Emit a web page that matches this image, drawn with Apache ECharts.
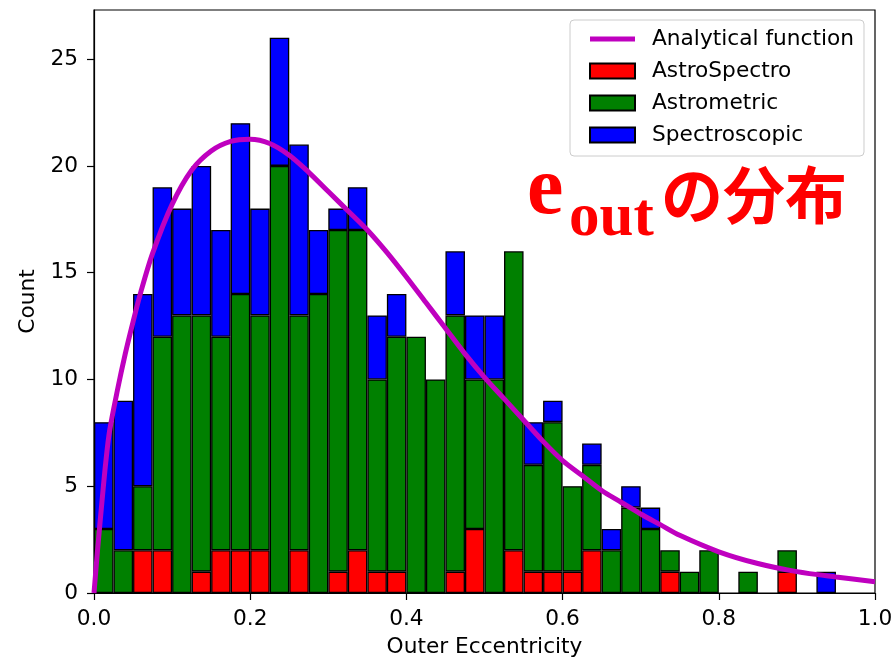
<!DOCTYPE html>
<html><head><meta charset="utf-8">
<script src="https://cdn.jsdelivr.net/npm/echarts@6/dist/echarts.min.js"></script>
<style>html,body{margin:0;padding:0;background:#fff}#c{width:894px;height:658px}</style>
</head><body><div id="c"></div>
<script>
// 40 histogram bins of width 0.025 between 0 and 1 (bin centres)
const categories = ['0.0125','0.0375','0.0625','0.0875','0.1125','0.1375','0.1625','0.1875','0.2125','0.2375',
  '0.2625','0.2875','0.3125','0.3375','0.3625','0.3875','0.4125','0.4375','0.4625','0.4875',
  '0.5125','0.5375','0.5625','0.5875','0.6125','0.6375','0.6625','0.6875','0.7125','0.7375',
  '0.7625','0.7875','0.8125','0.8375','0.8625','0.8875','0.9125','0.9375','0.9625','0.9875'];
const astroSpectro  = [0,0,2,2,0,1,2,2,2,0, 2,0,1,2,1,1,0,0,1,3, 0,2,1,1,1,2,0,0,0,1, 0,0,0,0,0,1,0,0,0,0];
const astrometric   = [3,2,3,10,13,12,10,12,11,20, 11,14,16,15,9,11,12,10,12,7, 10,14,5,7,4,4,2,4,3,1, 1,2,0,1,0,1,0,0,0,0];
const spectroscopic = [5,7,9,7,5,7,5,8,5,6, 8,3,1,2,3,2,0,0,3,3, 3,0,2,1,0,1,1,1,1,0, 0,0,0,0,0,0,0,1,0,0];
// analytical function
const curveX = [0,0.005,0.01,0.015,0.02,0.03,0.04,0.05,0.06,0.075,0.1,0.125,0.15,0.175,0.2,0.225,0.25,0.275,0.3,0.325,0.35,0.375,0.4,0.425,0.45,0.475,0.5,0.525,0.55,0.575,0.6,0.625,0.65,0.675,0.7,0.725,0.75,0.8,0.85,0.9,0.95,1.0];
const curveY = [0,2.2,4.2,6.1,7.6,9.5,11.2,12.7,14.1,15.9,18.2,19.8,20.7,21.15,21.25,21.05,20.5,19.7,18.8,17.9,17.0,15.95,14.8,13.6,12.4,11.2,10.1,9.1,8.1,7.1,6.2,5.5,4.8,4.25,3.7,3.2,2.7,1.93,1.38,1.0,0.75,0.53];
const xTicks = [0,0.2,0.4,0.6,0.8,1.0];
const yTicks = [0,5,10,15,20,25];

const FONT = 'DejaVu Sans';
const FS = 21.7;
const chart = echarts.init(document.getElementById('c'), null, {renderer:'canvas'});
const nz = a => a.map(v => v === 0 ? null : v);
const barStyle = c => ({color:c, borderColor:'#000', borderWidth:1.3});
chart.setOption({
  animation:false,
  backgroundColor:'#fff',
  grid:{left:94, right:19, top:10, bottom:65, outerBoundsMode:'none', containLabel:false, show:true, borderColor:'#000', borderWidth:1.2, backgroundColor:'transparent'},
  xAxis:[
    {type:'category', data:categories, show:false, position:'top', boundaryGap:true},
    {type:'value', min:0, max:1, interval:0.2, position:'bottom',
     axisLine:{show:true, lineStyle:{color:'#000', width:1.2}},
     axisTick:{show:true, length:7, lineStyle:{color:'#000', width:1.2}, customValues:xTicks},
     axisLabel:{fontFamily:FONT, fontSize:FS, color:'#000', margin:15, formatter:v=>v.toFixed(1), customValues:xTicks},
     splitLine:{show:false},
     name:'Outer Eccentricity', nameLocation:'middle', nameGap:43,
     nameTextStyle:{fontFamily:FONT, fontSize:FS, color:'#000'}}
  ],
  yAxis:{type:'value', min:0, max:27.3, interval:5,
     axisLine:{show:true, lineStyle:{color:'#000', width:1.2}},
     axisTick:{show:true, length:7, lineStyle:{color:'#000', width:1.2}, customValues:yTicks},
     axisLabel:{fontFamily:FONT, fontSize:FS, color:'#000', margin:16, customValues:yTicks},
     splitLine:{show:false},
     name:'Count', nameLocation:'middle', nameGap:53,
     nameTextStyle:{fontFamily:FONT, fontSize:FS, color:'#000'}},
  legend:{
    orient:'vertical', left:570, top:20, padding:[8,10,10,19], itemGap:10, itemWidth:45, itemHeight:15,
    textStyle:{fontFamily:FONT, fontSize:FS, color:'#000', padding:[0,0,0,12]},
    backgroundColor:'rgba(255,255,255,0.8)', borderColor:'#ccc', borderWidth:1, borderRadius:4,
    data:[{name:'Analytical function', icon:'path://M0,0H45V5H0Z', itemStyle:{color:'#bf00bf', borderWidth:0}},
          {name:'AstroSpectro', icon:'rect'},{name:'Astrometric', icon:'rect'},{name:'Spectroscopic', icon:'rect'}]
  },
  series:[
    {name:'AstroSpectro', type:'bar', stack:'h', xAxisIndex:0, barWidth:'100%', barCategoryGap:'0%', data:nz(astroSpectro), itemStyle:barStyle('#ff0000')},
    {name:'Astrometric', type:'bar', stack:'h', xAxisIndex:0, barWidth:'100%', barCategoryGap:'0%', data:nz(astrometric), itemStyle:barStyle('#008000')},
    {name:'Spectroscopic', type:'bar', stack:'h', xAxisIndex:0, barWidth:'100%', barCategoryGap:'0%', data:nz(spectroscopic), itemStyle:barStyle('#0000ff')},
    {name:'Analytical function', type:'line', xAxisIndex:1, smooth:0.3, showSymbol:false, symbol:'none', z:10,
     data:curveX.map((x,i)=>[x, curveY[i]]), lineStyle:{color:'#bf00bf', width:5}, itemStyle:{color:'#bf00bf'}}
  ],
  graphic:[
    {type:'text', x:527, y:192, z:100, style:{text:'e', font:'bold 82px "Liberation Serif"', fill:'#ff0000', verticalAlign:'middle', align:'left'}},
    {type:'text', x:569, y:219, z:100, style:{text:'out', font:'bold 61px "Liberation Serif"', fill:'#ff0000', verticalAlign:'middle', align:'left'}},
    {type:'text', x:661, y:195, z:100, style:{text:'の分布', font:'bold 62px "Noto Sans CJK JP"', fill:'#ff0000', verticalAlign:'middle', align:'left'}}
  ]
});
</script></body></html>
